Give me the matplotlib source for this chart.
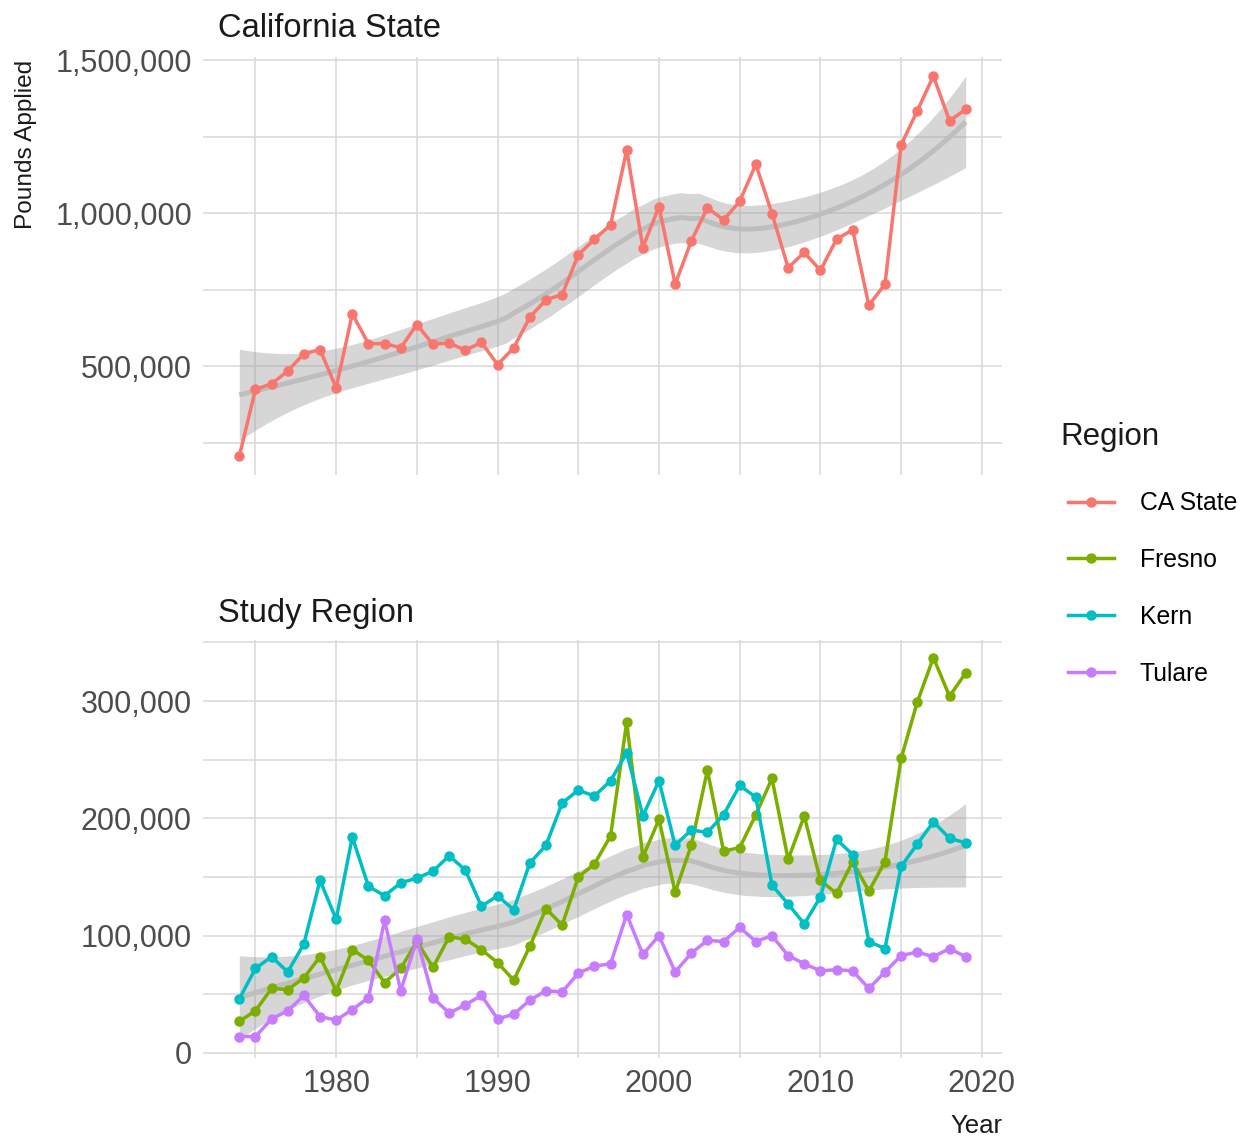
import numpy as np
import matplotlib
matplotlib.use('Agg')
import matplotlib.pyplot as plt
from matplotlib import font_manager
from matplotlib.lines import Line2D
from matplotlib.ticker import FuncFormatter, MultipleLocator

years = np.arange(1974, 2020)

ca_state = [206000, 424000, 442000, 484000, 541000, 554000, 429000, 671000, 573000, 574000,
            560000, 636000, 571000, 576000, 552000, 578000, 505000, 560000, 660000, 717000,
            734000, 864000, 915000, 962000, 1207000, 888000, 1022000, 768000, 909000, 1018000,
            978000, 1039000, 1160000, 999000, 822000, 872000, 813000, 915000, 946000, 699000,
            768000, 1223000, 1335000, 1449000, 1302000, 1340000]
fresno = [27000, 36000, 55000, 54000, 64000, 82000, 53000, 88000, 79000, 60000,
          72000, 95000, 73000, 99000, 97000, 88000, 77000, 62000, 91000, 123000,
          109000, 150000, 161000, 185000, 282000, 167000, 199000, 137000, 177000, 241000,
          172000, 175000, 203000, 234000, 165000, 202000, 147000, 136000, 163000, 138000,
          163000, 251000, 299000, 337000, 304000, 324000]
kern = [46000, 72000, 82000, 69000, 93000, 147000, 114000, 184000, 142000, 134000,
        145000, 149000, 155000, 168000, 156000, 125000, 134000, 122000, 162000, 177000,
        213000, 224000, 219000, 232000, 256000, 202000, 232000, 177000, 190000, 188000,
        203000, 228000, 218000, 143000, 127000, 110000, 133000, 182000, 169000, 95000,
        89000, 159000, 178000, 197000, 183000, 179000]
tulare = [14000, 14000, 29000, 36000, 49000, 31000, 28000, 37000, 47000, 113000,
          53000, 97000, 47000, 34000, 41000, 49000, 29000, 33000, 45000, 53000,
          52000, 68000, 74000, 76000, 118000, 84000, 100000, 69000, 85000, 96000,
          95000, 107000, 95000, 100000, 83000, 76000, 70000, 71000, 70000, 55000,
          69000, 83000, 86000, 82000, 89000, 82000]

regions = ['CA State', 'Fresno', 'Kern', 'Tulare']
colors = ['#F8766D', '#7CAE00', '#00BFC4', '#C77CFF']


def loess(x, y, grid, span=0.75):
    # local quadratic loess with tricube weights, 95% band like geom_smooth
    x = np.asarray(x, float)
    y = np.asarray(y, float)
    n = len(x)
    q = int(np.floor(n * span))

    def row(x0):
        d = np.abs(x - x0)
        h = np.sort(d)[q - 1]
        w = np.clip(1 - (d / h) ** 3, 0, None) ** 3
        X = np.column_stack([np.ones(n), x - x0, (x - x0) ** 2])
        XtW = X.T * w
        return np.linalg.solve(XtW @ X, XtW)[0]

    L = np.array([row(v) for v in x])
    resid = y - L @ y
    M = (np.eye(n) - L).T @ (np.eye(n) - L)
    d1 = np.trace(M)
    d2 = np.trace(M @ M)
    sigma = np.sqrt(resid @ resid / d1)
    t = 1.96 + 2.4 / (d1 ** 2 / d2)
    Lg = np.array([row(v) for v in grid])
    fit = Lg @ y
    se = sigma * np.sqrt((Lg ** 2).sum(axis=1))
    return fit, fit - t * se, fit + t * se


names = {f.name for f in font_manager.fontManager.ttflist}
if 'Liberation Sans Narrow' in names:
    font = 'Liberation Sans Narrow'
    s_title, s_tick, s_leg_t, s_leg, s_year = 27, 26.5, 22, 18.5, 20
else:
    font = 'Liberation Sans'
    s_title, s_tick, s_leg_t, s_leg, s_year = 23.5, 22, 22.5, 17.8, 18.5
plt.rcParams['font.family'] = [font, 'DejaVu Sans']

W, H = 1244, 1142
fig = plt.figure(figsize=(W / 100, H / 100), dpi=100)
ax1 = fig.add_axes([203 / W, 1 - 475 / H, 799 / W, 418 / H])
ax2 = fig.add_axes([203 / W, 1 - 1058 / H, 799 / W, 418 / H])

grid = np.linspace(years[0], years[-1], 80)
fmt = FuncFormatter(lambda v, _: f'{v:,.0f}')

for ax in (ax1, ax2):
    for s in ax.spines.values():
        s.set_visible(False)
    ax.set_xlim(1971.75, 2021.25)
    ax.xaxis.set_major_locator(MultipleLocator(10))
    ax.xaxis.set_minor_locator(MultipleLocator(5))
    ax.yaxis.set_major_formatter(fmt)
    ax.grid(True, which='both', color='#D9D9D9', linewidth=1.1)
    ax.set_axisbelow(True)
    ax.tick_params(which='both', length=0, labelsize=s_tick, labelcolor='#4D4D4D', pad=8)

# top panel
fit, lo, hi = loess(years, ca_state, grid)
ax1.fill_between(grid, lo, hi, color='#999999', alpha=0.4, linewidth=0, zorder=2)
ax1.plot(grid, fit, color='#BEBEBE', linewidth=3.6, zorder=3, solid_capstyle='butt')
ax1.plot(years, ca_state, color=colors[0], linewidth=2.5, marker='o', markersize=6.5, zorder=4)
ax1.set_ylim(144000, 1511000)
ax1.yaxis.set_major_locator(MultipleLocator(500000))
ax1.yaxis.set_minor_locator(MultipleLocator(250000))
ax1.tick_params(axis='x', labelbottom=False)
ax1.text(15 / 799, 1 + 20 / 418, 'California State', transform=ax1.transAxes,
         fontsize=s_title, color='#1A1A1A', va='baseline', ha='left')

# bottom panel
county_x = np.concatenate([years, years, years])
county_y = np.concatenate([fresno, kern, tulare])
fit, lo, hi = loess(county_x, county_y, grid)
ax2.fill_between(grid, lo, hi, color='#999999', alpha=0.4, linewidth=0, zorder=2)
ax2.plot(grid, fit, color='#BEBEBE', linewidth=3.6, zorder=3, solid_capstyle='butt')
for vals, c in zip([fresno, kern, tulare], colors[1:]):
    ax2.plot(years, vals, color=c, linewidth=2.5, marker='o', markersize=6.5, zorder=4)
ax2.set_ylim(-4300, 352000)
ax2.yaxis.set_major_locator(MultipleLocator(100000))
ax2.yaxis.set_minor_locator(MultipleLocator(50000))
ax2.text(15 / 799, 1 + 18 / 418, 'Study Region', transform=ax2.transAxes,
         fontsize=s_title, color='#1A1A1A', va='baseline', ha='left')

fig.text(26 / W, 1 - 144 / H, 'Pounds Applied', rotation=90, ha='center', va='center',
         fontsize=17.6, color='#1A1A1A', family=['Liberation Sans', 'DejaVu Sans'])
fig.text(1002 / W, 1 - 1133 / H, 'Year', ha='right', va='baseline',
         fontsize=s_year, color='#1A1A1A')

# legend
fig.text(1060 / W, 1 - 437 / H, 'Region', ha='left', va='center',
         fontsize=s_leg_t, color='#1A1A1A')
handles = [Line2D([0], [0], color=c, linewidth=2.5, marker='o', markersize=6.5) for c in colors]
fig.legend(handles, regions, loc='upper left', bbox_to_anchor=(1046 / W, 1 - 469 / H),
           frameon=False, fontsize=s_leg, handlelength=1.85, handletextpad=1.05,
           labelspacing=1.33)

fig.savefig('out.png', dpi=100)
